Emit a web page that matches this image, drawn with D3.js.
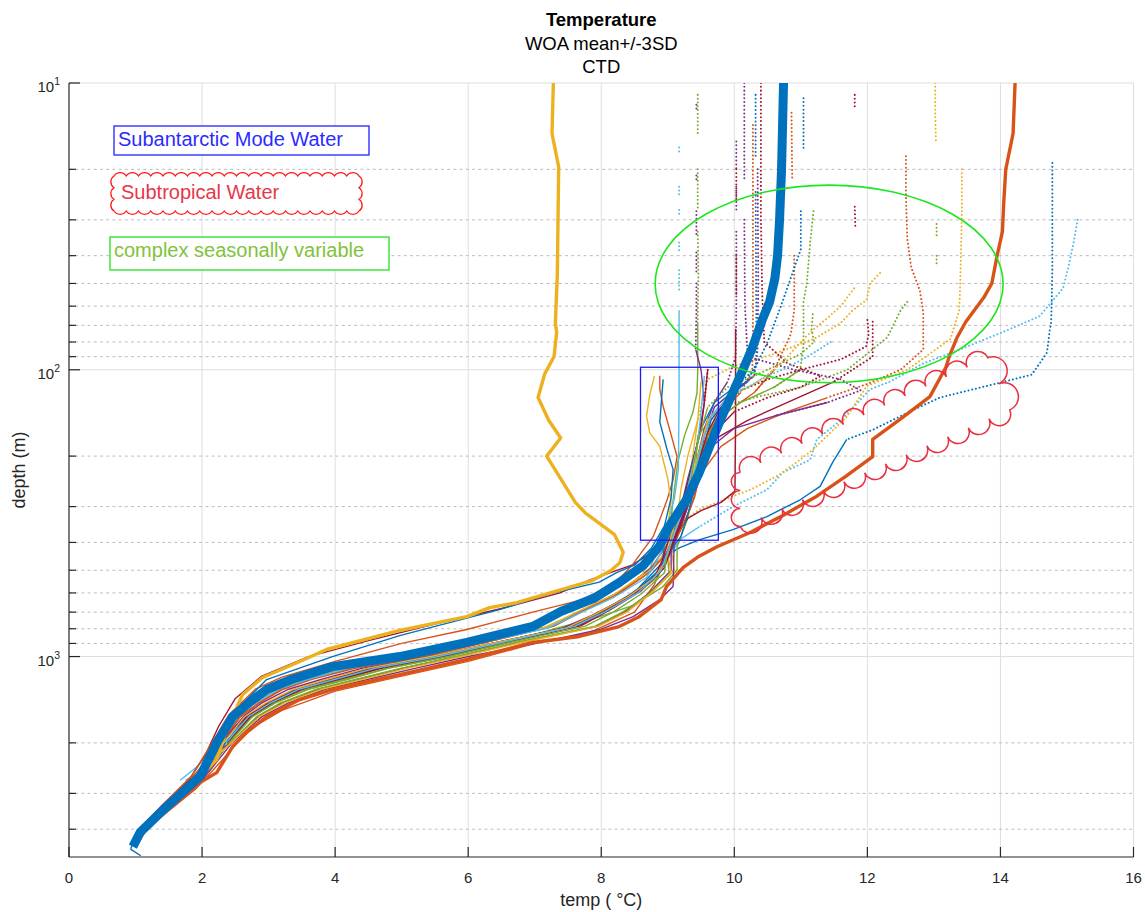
<!DOCTYPE html>
<html>
<head>
<meta charset="utf-8">
<script src="https://cdn.jsdelivr.net/npm/d3@7"></script>
<style>
  body { margin: 0; background: #fff; }
  svg { display: block; font-family: "Liberation Sans", Arial, Helvetica, sans-serif; }
</style>
</head>
<body>
<svg id="chart" width="1145" height="912"></svg>
<script>
// ---------- axis ticks ----------
const xTicks = [0, 2, 4, 6, 8, 10, 12, 14, 16];
const yMajorTicks = [10, 100, 1000];
const yMajorExp = ["1", "2", "3"];
const yMinorTicks = [20, 30, 40, 50, 60, 70, 80, 90, 200, 300, 400, 500, 600, 700, 800, 900, 2000, 3000, 4000];

// ---------- WOA climatology: [temperature degC, depth m] ----------
const woaMean = [[10.74,10],[10.71,20],[10.68,30],[10.65,40],[10.61,48],[10.53,58],[10.42,67],[10.27,84],[10.13,100],[10.00,117],[9.84,141],[9.67,175],[9.47,229],[9.28,284],[9.02,352],[8.87,414],[8.63,482],[8.28,550],[7.90,625],[7.40,695],[6.97,785],[5.98,893],[4.97,1000],[3.96,1084],[3.35,1200],[2.97,1303],[2.70,1450],[2.46,1620],[2.22,2000],[1.97,2618],[1.47,3335],[1.07,4100],[0.96,4600]];
const woaMinus3SD = [[7.28,10],[7.26,15],[7.36,19.6],[7.34,46.5],[7.31,69],[7.33,74],[7.29,90],[7.15,103.5],[7.05,125],[7.21,150],[7.39,173],[7.18,200],[7.61,290],[7.77,317],[8.20,376],[8.33,433],[8.28,471],[8.14,502],[7.85,545],[6.73,649],[6.32,675],[5.98,726],[4.97,811],[3.87,945],[3.47,1041],[2.91,1183],[2.61,1356],[2.37,1795],[2.22,2285],[1.97,2618],[1.41,3414],[1.22,3909]];
const woaPlus3SD = [[14.22,10],[14.19,15],[14.08,20],[14.05,26],[14.03,33],[13.95,40],[13.87,50],[13.75,56],[13.48,68],[13.35,77],[13.23,90],[13.18,98],[12.94,124],[12.49,149],[12.08,175],[12.08,201],[11.68,235],[11.24,276],[10.73,322],[10.23,370],[9.74,414],[9.45,450],[9.23,490],[8.98,570],[8.90,633],[8.57,726],[8.27,786],[7.67,851],[6.97,893],[5.98,1024],[4.97,1156],[3.96,1303],[3.47,1412],[2.97,1620],[2.67,1840],[2.46,2060],[2.22,2540],[1.97,2750],[1.50,3400],[1.15,4000],[1.00,4600]];

// ---------- CTD casts: [temperature degC, depth m], null = gap between samples ----------
const ctd01 = [[14.78,19],[14.78,30],[14.78,45],[14.77,60],[14.76,69],[14.74,73],[14.70,87],[14.59,95],[14.47,104],[13.99,111],[13.59,117],[13.09,125],[12.69,138],[12.08,162],[11.69,175],[11.48,210],[11.29,255],[10.99,284],[10.49,325],[9.98,361],[9.48,391],[9.18,417],[8.88,459],[8.70,500],[8.27,600],[7.68,700],[7.22,785],[6.18,893],[5.22,1000],[4.15,1100],[3.58,1200],[3.15,1300],[2.80,1450],[2.55,1620],[2.27,2000],[1.99,2600],[1.47,3300],[1.07,4100],[0.95,4500],[0.93,4700],[1.08,4950]];
const ctd02 = [[15.16,30],[15.10,36],[15.02,44],[14.94,52],[14.59,65],[14.09,73],[13.39,85],[12.84,95],[12.34,110],[12.04,117],[11.63,148],[11.24,175],[11.14,206],[10.73,228],[10.49,262],[9.98,300],[9.48,352],[9.18,391],[8.95,478],[8.50,600],[8.02,700],[7.58,785],[6.48,893],[5.52,1000],[4.55,1100],[3.95,1200],[3.42,1300],[3.00,1450],[2.68,1620],[2.35,2000],[2.00,2500],[1.75,2700]];
const ctd03 = [[13.42,20],[13.42,28],[13.41,36],[13.40,46],[13.39,55],[13.38,62],[13.25,78],[12.60,100],[11.99,114],[11.69,146],[11.18,190],[10.94,210],[10.64,235],[10.24,262],[9.98,276],[9.48,307],[9.20,340],[9.05,420],[9.10,500],[8.75,600],[8.38,700],[7.95,785],[6.78,893],[5.88,1000],[5.05,1100],[4.40,1200],[3.78,1300],[3.22,1450],[2.85,1620],[2.44,2000],[2.10,2250]];
const ctd04 = [[13.02,10],[13.02,12.5],[13.03,16],null,[12.19,46],[12.04,50],[11.99,57],[11.78,62],[11.59,69],[11.20,78],[10.60,88],[10.00,97],[9.60,108],[9.45,150],[9.35,220],[9.25,300],[9.10,380],[8.85,470],[8.62,530],[8.20,610],[7.60,710],[7.15,790],[6.10,900],[5.15,1005],[4.10,1105],[3.55,1205],[3.12,1310],[2.78,1460],[2.52,1630],[2.26,2010],[1.96,2650],[1.45,3350],[1.02,4300]];
const ctd05 = [[11.81,11],[11.81,12.4],null,[11.81,27],[11.82,32],null,[12.08,68],[12.08,78],[12.08,90],[11.50,110],[10.80,130],[10.20,150],[9.70,175],[9.45,220],[9.30,300],[9.15,380],[9.00,450],[8.85,520],[8.45,610],[7.95,705],[7.50,790],[6.42,895],[5.48,1000],[4.50,1100],[3.90,1200],[3.40,1300],[2.98,1450],[2.66,1620],[2.34,1900]];
const ctd06 = [[12.58,18],[12.58,25],[12.60,35],[12.66,44],[12.79,53],[12.84,63],[12.84,75],[12.84,85],[12.50,100],[12.00,112],[11.40,125],[10.80,140],[10.20,160],[9.80,185],[9.50,230],[9.35,300],[9.20,360],[9.00,430],[8.80,560],[8.50,700],[7.80,830],[7.00,900],[6.00,1040],[5.00,1170],[4.00,1320],[3.20,1540],[2.70,1800],[2.30,2300],[1.90,2900],[1.40,3600]];
const ctd07 = [[13.04,31],[13.04,35],null,[13.04,40],[13.04,43],null,[12.60,58],[12.50,62],[12.30,77],[11.70,100],[11.00,115],[10.30,125],[9.80,135],[9.45,170],[9.40,250],[9.30,330],[9.14,414],[9.14,498],[8.93,570],[8.48,663],[7.98,726],[7.30,800],[6.60,893],[5.70,1000],[4.80,1100],[4.20,1200],[3.60,1300],[3.10,1450],[2.75,1620],[2.40,2000],[2.04,2600],[1.50,3300],[1.00,4300]];
const ctd08 = [[9.45,11],[9.45,15],null,[9.45,20],[9.45,28],null,[9.45,33],[9.46,45],[9.45,68],[9.45,100],[9.44,120],[9.38,140],[9.25,170],[9.15,210],[9.10,260],[9.05,330],[8.95,400],[8.95,470],[8.85,530],[8.48,610],[7.98,700],[7.55,785],[6.45,893],[5.50,1000],[4.58,1100],[3.98,1200],[3.44,1300],[3.02,1450],[2.70,1620],[2.36,2000],[2.02,2600],[1.50,3300],[1.00,4400]];
const ctd09 = [[9.17,16.8],[9.17,17.5],null,[9.17,23],[9.17,25],null,[9.17,27.7],[9.17,29],null,[9.17,36],[9.17,39],null,[9.17,45],[9.17,53],null,[9.17,62],[9.17,120],[9.16,223],[9.10,280],[9.00,340],[8.85,420],[8.72,500],[8.22,605],[7.62,705],[7.20,790],[6.15,895],[5.20,1000],[4.15,1100],[3.55,1200],[3.12,1300],[2.78,1450],[2.52,1620],[2.25,2000],[1.90,2450],[1.67,2700]];
const ctd10 = [[9.43,11.9],[9.43,12.5],null,[9.43,21],[9.43,22],null,[9.43,28],[9.43,34],null,[9.43,39],[9.43,46],null,[9.43,50],[9.43,62],[9.42,85],[9.50,100],[9.55,130],[9.45,180],[9.30,240],[9.20,300],[9.10,360],[9.08,570],[8.88,633],[8.48,726],[7.98,805],[6.97,905],[6.00,1000],[5.20,1100],[4.50,1200],[3.85,1300],[3.30,1450],[2.90,1620],[2.45,2000],[2.00,2700],[1.50,3350],[1.05,4200]];
const ctd11 = [[10.03,16],[10.03,20],null,[10.03,23],[10.03,28],null,[10.03,33],[10.03,60],[10.02,90],[9.90,110],[9.70,130],[9.55,160],[9.45,200],[9.35,260],[9.25,320],[9.10,390],[8.95,450],[8.90,500],[8.52,600],[8.05,700],[7.62,785],[6.52,893],[5.58,1000],[4.62,1100],[4.02,1200],[3.47,1300],[3.04,1450],[2.71,1620],[2.37,2050],[2.00,2650],[1.45,3400]];
const ctd12 = [[10.03,20],[10.03,26],null,[10.03,40],[10.03,55],null,[10.02,72],[10.02,150],[10.01,265],[9.80,290],[9.50,310],[9.30,330],[9.15,370],[8.99,391],[8.73,437],[8.48,478],[7.83,540],[7.38,600],[6.50,680],[5.50,770],[4.50,880],[3.60,1000],[2.90,1170],[2.50,1400],[2.25,1750],[2.05,2200],[1.80,2700],[1.40,3300],[1.05,4000]];
const ctd13 = [[10.28,14],[10.28,25],[10.28,40],[10.28,70],[10.27,100],[10.10,120],[9.80,140],[9.60,170],[9.50,220],[9.40,280],[9.25,340],[9.10,400],[8.90,460],[8.72,510],[8.28,600],[7.70,700],[7.28,785],[6.25,893],[5.30,1000],[4.25,1100],[3.62,1200],[3.20,1300],[2.85,1450],[2.57,1620],[2.28,2000],[2.00,2400],[1.60,3100],[1.15,3900]];
const ctd14 = [[10.35,20],[10.36,50],[10.35,85],[10.30,105],[10.00,118],[9.70,135],[9.55,170],[9.45,230],[9.30,300],[9.15,370],[9.05,430],[9.05,500],[8.72,600],[8.35,700],[7.92,785],[6.75,893],[5.85,1000],[5.00,1100],[4.35,1200],[3.75,1300],[3.20,1450],[2.84,1620],[2.43,2000],[2.15,2200]];
const ctd15 = [[10.32,11],[10.32,18],null,[10.32,24],[10.33,60],[10.33,95],[10.20,110],[9.90,125],[9.65,150],[9.50,200],[9.40,260],[9.30,320],[9.20,380],[9.00,440],[8.88,500],[8.48,600],[7.98,700],[7.55,785],[6.45,893],[5.52,1000],[4.57,1100],[3.96,1200],[3.43,1300],[3.01,1450],[2.69,1620],[2.35,2000],[2.00,2600]];
const ctd16 = [[10.86,12.7],[10.87,22],null,[10.90,40],[10.90,62],[10.85,75],[10.60,100],[10.30,120],[9.90,140],[9.60,170],[9.45,220],[9.30,290],[9.15,350],[8.95,420],[8.75,490],[8.30,590],[7.72,690],[7.30,780],[6.28,890],[5.32,1000],[4.30,1100],[3.65,1200],[3.22,1300],[2.86,1450],[2.58,1620],[2.29,2000],[1.98,2550]];
const ctd17 = [[11.04,11.3],[11.04,17],null,[11.00,28],[11.00,38],[10.70,60],[10.50,80],[10.30,100],[10.00,115],[9.70,130],[9.50,160],[9.35,220],[9.25,280],[9.10,340],[8.95,400],[8.92,470],[8.55,580],[8.10,690],[7.65,780],[6.55,890],[5.60,1000],[4.65,1100],[4.05,1200],[3.50,1300],[3.05,1450],[2.72,1620],[2.37,2000]];
const ctd18 = [[11.19,28],[11.14,36],[11.09,50],[11.04,58],[11.04,83],[10.99,100],[10.60,115],[10.10,130],[9.70,150],[9.50,190],[9.35,250],[9.20,320],[9.05,390],[9.00,450],[9.02,520],[8.70,610],[8.32,700],[7.90,785],[6.72,893],[5.82,1000],[4.98,1100],[4.32,1200],[3.72,1300],[3.18,1450],[2.82,1620],[2.42,2000],[2.05,2500]];
const ctd19 = [[8.88,105],[8.88,117],[8.93,134],[9.03,162],[9.14,201],[9.08,242],[8.99,284],[8.88,333],[8.78,382],[8.47,478],[8.23,550],[7.72,633],[6.97,700],[5.98,805],[5.00,900],[4.00,1040],[3.20,1180],[2.80,1300],[2.40,1600],[2.15,2000],[1.85,2600],[1.40,3300],[1.05,4100]];
const ctd20 = [[8.80,105],[8.73,122],[8.68,145],[8.73,166],[8.88,185],[8.93,206],[9.00,240],[9.05,290],[9.00,350],[8.85,400],[8.70,460],[8.62,520],[8.18,610],[7.60,705],[7.18,790],[6.12,895],[5.18,1000],[4.12,1100],[3.52,1200],[3.10,1300],[2.77,1450],[2.50,1620],[2.24,2000]];
const ctd21 = [[8.93,108],[8.88,152],[8.99,190],[9.08,223],[9.05,280],[8.95,350],[8.75,420],[8.50,480],[8.23,510],[7.97,550],[7.22,605],[6.47,686],[4.97,845],[3.96,1000],[2.97,1203],[2.67,1412],[2.46,1700],[2.22,1946],[2.07,2200]];
const ctd22 = [[9.60,100],[9.55,130],[9.50,160],[9.40,200],[9.30,250],[9.20,300],[9.10,350],[9.00,400],[8.92,460],[8.80,530],[8.45,610],[7.95,705],[7.52,790],[6.42,895],[5.46,1000],[4.52,1100],[3.92,1200],[3.40,1300],[2.99,1450],[2.67,1620],[2.34,1950],[2.00,2500],[1.52,3200],[1.10,4000]];
const ctd23 = [[9.55,105],[9.50,140],[9.45,180],[9.35,230],[9.25,290],[9.10,350],[8.95,410],[8.80,480],[8.68,530],[8.20,620],[7.62,715],[7.20,795],[6.15,898],[5.20,1002],[4.18,1102],[3.58,1202],[3.15,1302],[2.80,1452],[2.54,1622],[2.26,2000]];
const ctd24 = [[9.50,110],[9.45,150],[9.30,200],[9.20,260],[9.15,320],[9.05,380],[9.00,440],[9.05,510],[8.75,600],[8.38,700],[7.95,785],[6.80,893],[5.90,1000],[5.08,1100],[4.42,1200],[3.80,1300],[3.24,1450],[2.86,1620],[2.44,2000],[2.05,2400],[1.60,3100],[1.15,3900]];
const ctd25 = [[10.40,10],[10.40,30],[10.42,55],[10.45,80],[10.80,95],[11.30,105],[11.00,115],[10.50,125],[10.00,140],[9.70,165],[9.50,210],[9.35,270],[9.20,340],[9.05,420],[8.95,490],[8.60,590],[8.12,690],[7.70,780],[6.60,890],[5.65,1000],[4.70,1100],[4.10,1200],[3.52,1300],[3.06,1450],[2.73,1620],[2.38,2000]];
const ctd26 = [[10.15,10],[10.15,22],null,[10.15,30],[10.16,60],[10.20,90],[10.90,100],[11.60,108],[11.90,118],[11.40,130],[10.60,145],[10.00,160],[9.60,190],[9.40,240],[9.25,310],[9.10,380],[8.95,450],[8.85,520],[8.40,620],[7.85,720],[7.40,800],[6.35,900],[5.40,1000],[4.40,1100],[3.80,1200],[3.30,1300],[2.90,1450],[2.62,1620],[2.30,2000]];
const ctd27 = [[12.00,67],[12.02,75],[11.98,83],[11.60,92],[11.00,100],[10.50,108],[10.10,118],[9.80,135],[9.60,165],[9.45,215],[9.32,280],[9.18,350],[9.02,420],[8.92,490],[8.58,590],[8.08,690],[7.66,780],[6.56,890],[5.62,1000],[4.66,1100],[4.06,1200],[3.50,1300],[3.05,1450],[2.72,1620],[2.37,2000]];
const ctd28 = [[11.80,52],[11.60,60],[11.40,66],[11.20,72],[11.00,80],[10.80,90],[10.60,100],[10.30,112],[9.90,125],[9.60,150],[9.45,200],[9.32,260],[9.18,330],[9.05,400],[8.95,470],[8.80,530],[8.42,615],[7.92,710],[7.48,795],[6.38,897],[5.44,1000],[4.48,1100],[3.88,1200],[3.38,1300],[2.96,1450],[2.64,1620],[2.32,2000]];
const ctd29 = [[11.18,64],[11.16,72],[11.20,80],[11.00,88],[10.70,95],[10.30,105],[9.90,115],[9.60,135],[9.45,180],[9.35,240],[9.22,310],[9.08,380],[8.98,450],[8.95,510],[8.60,605],[8.18,700],[7.75,785],[6.62,893],[5.70,1000],[4.78,1100],[4.15,1200],[3.58,1300],[3.10,1450],[2.76,1620],[2.40,2000]];
const ctd30 = [[11.45,80],[11.10,90],[10.80,98],[10.50,105],[10.20,115],[9.90,125],[9.65,145],[9.50,185],[9.38,240],[9.25,300],[9.12,360],[9.00,430],[8.90,500],[8.55,600],[8.05,700],[7.60,785],[6.50,893],[5.55,1000],[4.60,1100],[4.00,1200],[3.46,1300],[3.03,1450],[2.70,1620],[2.36,2000]];

const ctdCasts = [ctd01, ctd02, ctd03, ctd04, ctd05, ctd06, ctd07, ctd08, ctd09, ctd10, ctd11, ctd12, ctd13, ctd14, ctd15,
                  ctd16, ctd17, ctd18, ctd19, ctd20, ctd21, ctd22, ctd23, ctd24, ctd25, ctd26, ctd27, ctd28, ctd29, ctd30];

// ---------- water-mass annotations (temperature degC / depth m) ----------
const samwBoxTemp = [8.59, 9.76];
const samwBoxDepth = [98, 393];
const seasonalTemp = [8.81, 14.04];
const seasonalDepth = [22.7, 111];
const stwCloud = [[10.09, 228], [13.81, 90.8], [14.14, 138], [10.09, 352]];

// ---------- styling ----------
const castColors = ["#0072BD","#4DBEEE","#EDB120","#EDB120","#A2142F","#D95319","#77AC30","#77AC30",
                    "#4DBEEE","#7E2F8E","#7E2F8E","#A2142F","#D95319","#7E2F8E","#0072BD","#D95319",
                    "#0072BD","#77AC30","#D95319","#EDB120","#0072BD","#A2142F","#4DBEEE","#EDB120",
                    "#A2142F","#7E2F8E","#A2142F","#EDB120","#77AC30","#4DBEEE"];
// shallower than this depth the sparse 1 m samples read as separate dots
const castDotDepth = [165,320,310,110,95,120,130,62,60,65,100,70,105,105,100,100,110,100,100,100,100,100,100,100,130,130,125,125,125,125];
const stwLobes = [12, 2, 13, 3];

const svg = d3.select("#chart");
const x = d3.scaleLinear().domain([0, 16]).range([69, 1133.5]);
const y = d3.scaleLog().domain([10, 5000]).range([83, 857]);
const [x0, x1] = x.range();
const [y0, y1] = y.range();
const ink = "#262626";

// ---------- grid ----------
const grid = svg.append("g");
grid.selectAll("line.gx").data(xTicks.filter(t => t > 0)).join("line").attr("class", "gx")
  .attr("x1", d => x(d)).attr("x2", d => x(d)).attr("y1", y0).attr("y2", y1)
  .attr("stroke", "#dedede").attr("stroke-width", 1);
grid.selectAll("line.gy").data(yMajorTicks).join("line").attr("class", "gy")
  .attr("x1", x0).attr("x2", x1).attr("y1", d => y(d)).attr("y2", d => y(d))
  .attr("stroke", "#dedede").attr("stroke-width", 1);
grid.selectAll("line.gm").data(yMinorTicks).join("line").attr("class", "gm")
  .attr("x1", x0).attr("x2", x1).attr("y1", d => y(d)).attr("y2", d => y(d))
  .attr("stroke", "#bdbdbd").attr("stroke-width", 1).attr("stroke-dasharray", "3,3.2");

// ---------- profiles ----------
svg.append("clipPath").attr("id", "plotClip").append("rect")
  .attr("x", x0).attr("y", y0).attr("width", x1 - x0).attr("height", y1 - y0);
const plot = svg.append("g").attr("clip-path", "url(#plotClip)");

const line = d3.line().defined(d => d != null).x(d => x(d[0])).y(d => y(d[1]));

function splitCast(pts, cut) {
  const shallow = [], deep = [];
  pts.forEach((p, i) => {
    if (!p) { shallow.push(null); deep.push(null); return; }
    const prev = pts[i - 1];
    const inShallow = p[1] <= cut || (prev && prev[1] <= cut);
    shallow.push(inShallow ? p : null);
    deep.push(p[1] >= cut ? p : null);
  });
  return [shallow, deep];
}

ctdCasts.forEach((cast, i) => {
  const [shallow, deep] = splitCast(cast, castDotDepth[i]);
  plot.append("path").attr("d", line(shallow)).attr("fill", "none")
    .attr("stroke", castColors[i]).attr("stroke-width", 2)
    .attr("stroke-linecap", "round").attr("stroke-dasharray", "0.01 3.8");
  plot.append("path").attr("d", line(deep)).attr("fill", "none")
    .attr("stroke", castColors[i]).attr("stroke-width", 1.4).attr("stroke-linejoin", "round");
});

plot.append("path").attr("d", line(woaMinus3SD)).attr("fill", "none")
  .attr("stroke", "#EDB120").attr("stroke-width", 3.4).attr("stroke-linejoin", "round");
plot.append("path").attr("d", line(woaPlus3SD)).attr("fill", "none")
  .attr("stroke", "#D95319").attr("stroke-width", 3.4).attr("stroke-linejoin", "round");
plot.append("path").attr("d", line(woaMean)).attr("fill", "none")
  .attr("stroke", "#0072BD").attr("stroke-width", 9).attr("stroke-linejoin", "round");

// ---------- axes ----------
const axes = svg.append("g").attr("stroke", ink).attr("stroke-width", 1.2);
axes.append("line").attr("x1", x0).attr("x2", x1).attr("y1", y1).attr("y2", y1);
axes.append("line").attr("x1", x0).attr("x2", x0).attr("y1", y0).attr("y2", y1);
axes.selectAll("line.tx").data(xTicks).join("line").attr("class", "tx")
  .attr("x1", d => x(d)).attr("x2", d => x(d)).attr("y1", y1).attr("y2", y1 - 10);
axes.selectAll("line.ty").data(yMajorTicks).join("line").attr("class", "ty")
  .attr("x1", x0).attr("x2", x0 + 11).attr("y1", d => y(d)).attr("y2", d => y(d));
axes.selectAll("line.tm").data(yMinorTicks).join("line").attr("class", "tm")
  .attr("x1", x0).attr("x2", x0 + 7).attr("y1", d => y(d)).attr("y2", d => y(d));

svg.append("g").selectAll("text").data(xTicks).join("text")
  .attr("x", d => x(d)).attr("y", y1 + 26).attr("text-anchor", "middle")
  .attr("font-size", 15).attr("fill", ink).text(d => d);

const yLab = svg.append("g").selectAll("text").data(yMajorTicks).join("text")
  .attr("x", 60).attr("y", d => y(d) + 9).attr("text-anchor", "end")
  .attr("font-size", 15).attr("fill", ink);
yLab.append("tspan").text("10");
yLab.append("tspan").attr("font-size", 10.5).attr("dy", -7).text((d, i) => yMajorExp[i]);

svg.append("text").attr("x", (x0 + x1) / 2).attr("y", 906).attr("text-anchor", "middle")
  .attr("font-size", 18).attr("fill", ink).text("temp ( °C)");
svg.append("text").attr("transform", `translate(25,${(y0 + y1) / 2}) rotate(-90)`)
  .attr("text-anchor", "middle").attr("font-size", 18).attr("fill", ink).text("depth (m)");

// ---------- title ----------
const title = svg.append("g").attr("text-anchor", "middle").attr("fill", "#000").attr("font-size", 18.5);
title.append("text").attr("x", (x0 + x1) / 2).attr("y", 26).attr("font-weight", "bold").text("Temperature");
title.append("text").attr("x", (x0 + x1) / 2).attr("y", 49.5).text("WOA mean+/-3SD");
title.append("text").attr("x", (x0 + x1) / 2).attr("y", 73.3).text("CTD");

// ---------- water-mass outlines ----------
function cloudPath(pts, lobes, rf, large) {
  let p = `M${pts[0][0]},${pts[0][1]}`;
  pts.forEach((a, i) => {
    const b = pts[(i + 1) % pts.length], n = lobes[i];
    const c = Math.hypot(b[0] - a[0], b[1] - a[1]) / n, r = c * rf;
    for (let k = 1; k <= n; k++) {
      const px = a[0] + (b[0] - a[0]) * k / n, py = a[1] + (b[1] - a[1]) * k / n;
      p += ` A${r.toFixed(2)},${r.toFixed(2)} 0 ${large} 1 ${px.toFixed(2)},${py.toFixed(2)}`;
    }
  });
  return p + " Z";
}

svg.append("rect")
  .attr("x", x(samwBoxTemp[0])).attr("y", y(samwBoxDepth[0]))
  .attr("width", x(samwBoxTemp[1]) - x(samwBoxTemp[0]))
  .attr("height", y(samwBoxDepth[1]) - y(samwBoxDepth[0]))
  .attr("fill", "none").attr("stroke", "#1a1aff").attr("stroke-width", 1.3);

svg.append("ellipse")
  .attr("cx", (x(seasonalTemp[0]) + x(seasonalTemp[1])) / 2)
  .attr("cy", (y(seasonalDepth[0]) + y(seasonalDepth[1])) / 2)
  .attr("rx", (x(seasonalTemp[1]) - x(seasonalTemp[0])) / 2)
  .attr("ry", (y(seasonalDepth[1]) - y(seasonalDepth[0])) / 2)
  .attr("fill", "none").attr("stroke", "#1ee61e").attr("stroke-width", 1.6);

svg.append("path")
  .attr("d", cloudPath(stwCloud.map(d => [x(d[0]), y(d[1])]), stwLobes, 0.5, 0))
  .attr("fill", "none").attr("stroke", "#ea3040").attr("stroke-width", 1.5);

// ---------- key boxes ----------
const key = svg.append("g").attr("font-size", 20);
key.append("rect").attr("x", 114).attr("y", 126).attr("width", 255).attr("height", 29)
  .attr("fill", "#fff").attr("stroke", "#2020ff").attr("stroke-width", 1.3);
key.append("text").attr("x", 118).attr("y", 146).attr("fill", "#2b2bff").text("Subantarctic Mode Water");

key.append("path")
  .attr("d", cloudPath([[114, 176], [359, 176], [359, 211], [114, 211]], [20, 3, 20, 3], 0.6, 0))
  .attr("fill", "#fff").attr("stroke", "#ff1a1a").attr("stroke-width", 1.3);
key.append("text").attr("x", 121).attr("y", 199).attr("fill", "#e8364a").text("Subtropical Water");

key.append("rect").attr("x", 110).attr("y", 237).attr("width", 279).attr("height", 33)
  .attr("fill", "#fff").attr("stroke", "#22e022").attr("stroke-width", 1.3);
key.append("text").attr("x", 114).attr("y", 257).attr("fill", "#7fc23c").text("complex seasonally variable");
</script>
</body>
</html>
